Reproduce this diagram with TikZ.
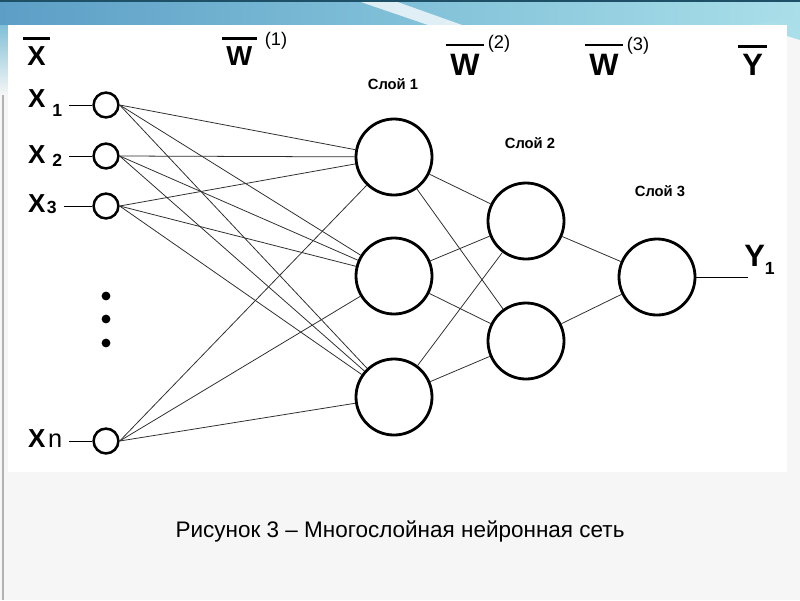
\documentclass[tikz,border=0pt]{standalone}
\usepackage{fontspec}
\setmainfont{Liberation Sans}
\usetikzlibrary{positioning}
\definecolor{bandL}{RGB}{92,158,198}
\definecolor{bandM}{RGB}{128,192,216}
\definecolor{bandR}{RGB}{170,223,233}
\definecolor{bandtop}{RGB}{30,80,104}
\definecolor{pagegrey}{RGB}{246,246,246}
\definecolor{wire}{RGB}{45,45,45}
\newcommand{\subidxfont}{\fontsize{12.5}{12.5}\selectfont\bfseries}
\tikzset{
  inp/.style={circle, draw, line width=1.8pt, minimum size=0.62cm, inner sep=0pt},
  neuron/.style={circle, draw, line width=2pt, minimum size=1.9cm, inner sep=0pt},
  link/.style={draw=wire, line width=0.55pt},
  lead/.style={draw, line width=0.7pt},
  bar/.style={draw, line width=2pt},
  dot/.style={circle, fill, minimum size=0.22cm, inner sep=0pt},
  var/.style={font=\fontsize{18.5}{18.5}\selectfont\bfseries, inner sep=0pt, outer xsep=5pt, anchor=base west},
  topvar/.style={font=\fontsize{19.5}{19.5}\selectfont\bfseries, inner sep=0pt, anchor=base west},
  bigvar/.style={font=\fontsize{22}{22}\selectfont\bfseries, inner sep=0pt, anchor=base west},
  supidx/.style={font=\fontsize{13}{13}\selectfont, inner sep=0pt},
  layer/.style={font=\fontsize{10.5}{10.5}\selectfont\bfseries, inner sep=0pt}
}
\begin{document}
\begin{tikzpicture}[x=0.025cm, y=-0.025cm]
  \useasboundingbox (0, 0) rectangle (800, 600);
  \fill[pagegrey] (0, 0) rectangle (800, 600);
  \shade[left color=bandL, right color=bandR, middle color=bandM] (0, 0) rectangle (800, 25);
  \fill[white, opacity=0.75] (355, 0) -- (392, 0) -- (462, 25) -- (428, 25) -- cycle;
  \fill[bandtop] (0, 0) rectangle (800, 1.5);
  \shade[top color=bandM, bottom color=pagegrey] (0, 25) rectangle (8, 95);
  \fill[bandR] (745, 25) .. controls (770, 22) and (790, 18) .. (800, 16) -- (800, 40) -- (787, 36) -- (787, 25) -- cycle;
  \fill[white] (8, 25) rectangle (787, 472);
  \draw[gray!60, line width=0.8pt] (3, 95) to (3, 600);

  \node[topvar] (xbar) at (27, 65) {X};
  \node[topvar] (w1) at (226, 65) {W};
  \node[bigvar] (w2) at (450, 75) {W};
  \node[bigvar] (w3) at (589, 75) {W};
  \node[bigvar] (ybar) at (742, 75) {Y};
    \draw[bar] ([shift={(-3pt, 5.5pt)}]xbar.north west) to ([shift={(3pt, 5.5pt)}]xbar.north east);
    \draw[bar] ([shift={(-3pt, 5pt)}]w1.north west) to ([shift={(3pt, 5pt)}]w1.north east);
    \draw[bar] ([shift={(-3pt, 6pt)}]w2.north west) to ([shift={(3pt, 6pt)}]w2.north east);
    \draw[bar] ([shift={(-3pt, 6pt)}]w3.north west) to ([shift={(3pt, 6pt)}]w3.north east);
    \draw[bar] ([shift={(-3pt, 5pt)}]ybar.north west) to ([shift={(3pt, 5pt)}]ybar.north east);
  \node[supidx] (s1) at (276, 41) {(1)};
  \node[supidx] (s2) at (499, 44) {(2)};
  \node[supidx] (s3) at (638, 46) {(3)};

  \node[layer] (t1) at (393, 84) {Слой 1};
  \node[layer] (t2) at (530, 143) {Слой 2};
  \node[layer] (t3) at (660, 191) {Слой 3};

  \node[var] (l1) at (21, 107) {X\hspace{5pt}\raisebox{-7pt}{\subidxfont 1}};
  \node[var] (l2) at (21, 163) {X\hspace{5pt}\raisebox{-2.5pt}{\subidxfont 2}};
  \node[var] (l3) at (21, 212) {X\hspace{1pt}\raisebox{-1pt}{\subidxfont 3}};
  \node[var] (ln) at (21, 447) {X\hspace{2pt}{\fontsize{18}{18}\selectfont\mdseries n}};

  \node[inp] (x1) at (106, 105) {};
  \node[inp] (x2) at (106, 156) {};
  \node[inp] (x3) at (106, 206) {};
  \node[inp] (xn) at (106, 441) {};
    \draw[lead] (l1.east |- x1) to (x1);
    \draw[lead] (l2.east |- x2) to (x2);
    \draw[lead] (l3.east |- x3) to (x3);
    \draw[lead] (ln.east |- xn) to (xn);
  \node[dot] (d1) at (106, 296) {};
  \node[dot] (d2) at (106, 319) {};
  \node[dot] (d3) at (106, 343) {};

  \node[neuron] (h1) at (394, 157) {};
  \node[neuron] (h2) at (394, 276) {};
  \node[neuron] (h3) at (394, 397) {};
  \node[neuron] (m1) at (526, 221) {};
  \node[neuron] (m2) at (526, 341) {};
  \node[neuron] (o) at (657, 277) {};

  \draw[link] (x1.east) to (h1);
  \draw[link] (x1.east) to (h2);
  \draw[link] (x1.east) to (h3);
  \draw[link] (x2.east) to (h1);
  \draw[link] (x2.east) to (h2);
  \draw[link] (x2.east) to (h3);
  \draw[link] (x3.east) to (h1);
  \draw[link] (x3.east) to (h2);
  \draw[link] (x3.east) to (h3);
  \draw[link] (xn.east) to (h1);
  \draw[link] (xn.east) to (h2);
  \draw[link] (xn.east) to (h3);

  \draw[link] (h1) to (m1);
  \draw[link] (h1) to (m2);
  \draw[link] (h2) to (m1);
  \draw[link] (h2) to (m2);
  \draw[link] (h3) to (m1);
  \draw[link] (h3) to (m2);

  \draw[link] (m1) to (o);
  \draw[link] (m2) to (o);

  \coordinate (yend) at (748, 277);
  \draw[lead] (o) to (yend);
  \node[bigvar] (y1) at (744, 266) {Y\raisebox{-6pt}{\subidxfont 1}};

  \node[font=\fontsize{16}{16}\selectfont, inner sep=0pt] (cap) at (400, 531) {Рисунок 3 – Многослойная нейронная сеть};
\end{tikzpicture}
\end{document}
